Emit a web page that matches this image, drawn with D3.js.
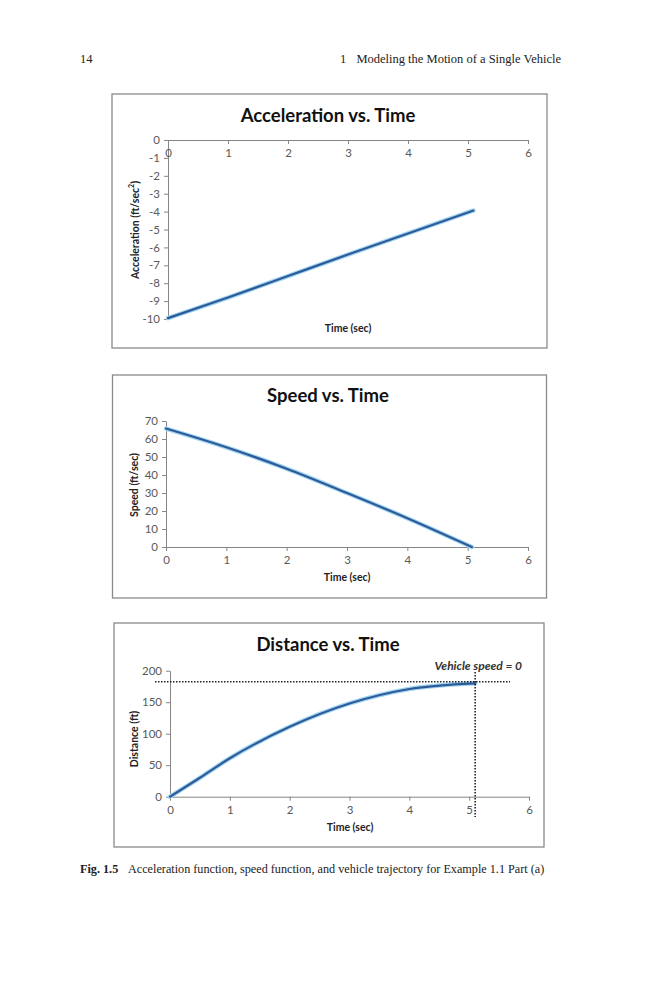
<!DOCTYPE html>
<html>
<head>
<meta charset="utf-8">
<script src="https://cdn.jsdelivr.net/npm/d3@7"></script>
<style>
  body { margin: 0; background: #fff; }
  svg { display: block; }
  .tick text { font-family: Lato, "Open Sans", sans-serif; font-size: 11.5px; fill: #595959; }
  .domain, .tick line { stroke: #868686; }
  .chart-title { font-family: Lato, sans-serif; font-weight: bold; font-size: 18.5px; fill: #111; }
  .axis-title { font-family: Lato, sans-serif; font-weight: bold; font-size: 10.5px; fill: #222; }
  .page { font-family: "Liberation Serif", "Times New Roman", serif; fill: #222; }
</style>
</head>
<body>
<div id="page"></div>
<script>
// values
const accelTime = [0, 1, 2, 3, 4, 5.09];
const accelValues = [-9.95, -8.8, -7.6, -6.4, -5.22, -3.94];

const speedTime = [0, 1, 2, 3, 4, 5.07];
const speedValues = [65.8, 55.4, 43.5, 30, 16, 0];

const distTime = [0, 0.5, 1, 2, 3, 4, 5.1];
const distValues = [0, 30, 61, 111, 148, 171, 180];

const stopTime = 5.1;
const stopDistance = 182.5;

const timeTicks = [0, 1, 2, 3, 4, 5, 6];
const accelTicks = [0, -1, -2, -3, -4, -5, -6, -7, -8, -9, -10];
const speedTicks = [0, 10, 20, 30, 40, 50, 60, 70];
const distTicks = [0, 50, 100, 150, 200];

const svg = d3.select("#page").append("svg")
    .attr("width", 659)
    .attr("height", 1000);

// running header
svg.append("text").attr("class", "page")
    .attr("x", 80).attr("y", 63)
    .style("font-size", "12.5px")
    .text("14");
svg.append("text").attr("class", "page")
    .attr("x", 340).attr("y", 63)
    .style("font-size", "12.5px")
    .text("1");
svg.append("text").attr("class", "page")
    .attr("x", 561).attr("y", 63)
    .attr("text-anchor", "end")
    .style("font-size", "12.5px")
    .text("Modeling the Motion of a Single Vehicle");

function drawChart(opts) {
    let g = svg.append("g");

    // frame
    g.append("rect")
        .attr("x", opts.box[0]).attr("y", opts.box[1])
        .attr("width", opts.box[2] - opts.box[0])
        .attr("height", opts.box[3] - opts.box[1])
        .attr("fill", "#fff")
        .attr("stroke", "#8a8a8a")
        .attr("stroke-width", 1.3);

    let x = d3.scaleLinear().domain([0, 6]).range(opts.xRange);
    let y = d3.scaleLinear().domain(opts.yDomain).range(opts.yRange);

    let yAxis = d3.axisLeft(y)
        .tickValues(opts.yTicks)
        .tickFormat(d => String(d))
        .tickSize(4)
        .tickPadding(4)
        .tickSizeOuter(0);
    g.append("g")
        .attr("transform", `translate(${opts.xRange[0]},0)`)
        .call(yAxis);

    let xAxis = d3.axisBottom(x)
        .tickValues(timeTicks)
        .tickFormat(d => String(d))
        .tickSize(4)
        .tickPadding(5)
        .tickSizeOuter(0);
    g.append("g")
        .attr("transform", `translate(0,${y(opts.xAxisAt)})`)
        .call(xAxis);

    // chart title
    g.append("text").attr("class", "chart-title")
        .attr("x", 328).attr("y", opts.titleY)
        .attr("text-anchor", "middle")
        .text(opts.title);

    // axis titles
    g.append("text").attr("class", "axis-title")
        .attr("x", opts.xTitle[0]).attr("y", opts.xTitle[1])
        .attr("text-anchor", "middle")
        .attr("dominant-baseline", "middle")
        .text("Time (sec)");

    let yt = g.append("text").attr("class", "axis-title")
        .attr("transform", `translate(${opts.yTitle[0]},${opts.yTitle[1]}) rotate(-90)`)
        .attr("text-anchor", "middle")
        .attr("dominant-baseline", "middle");
    opts.yLabel(yt);

    let line = d3.line()
        .x((d, i) => x(opts.t[i]))
        .y(d => y(d))
        .curve(d3.curveMonotoneX);

    g.append("path")
        .attr("d", line(opts.v))
        .attr("fill", "none")
        .attr("stroke", "#9fd6f2")
        .attr("stroke-width", 4.5)
        .attr("stroke-linecap", "round");
    g.append("path")
        .attr("d", line(opts.v))
        .attr("fill", "none")
        .attr("stroke", "#2f5a98")
        .attr("stroke-width", 2.2)
        .attr("stroke-linecap", "round");

    return { g: g, x: x, y: y };
}

drawChart({
    box: [112, 94, 547, 348],
    xRange: [168, 528],
    yDomain: [-10, 0],
    yRange: [319, 140],
    yTicks: accelTicks,
    xAxisAt: 0,
    title: "Acceleration vs. Time",
    titleY: 122,
    xTitle: [348, 329],
    yTitle: [136, 230],
    yLabel: function(t) {
        t.append("tspan").text("Acceleration (ft/sec");
        t.append("tspan").attr("baseline-shift", "super").style("font-size", "7px").text("2");
        t.append("tspan").text(")");
    },
    t: accelTime,
    v: accelValues
});

drawChart({
    box: [112.5, 375, 546.5, 598],
    xRange: [166, 528],
    yDomain: [0, 70],
    yRange: [547, 421],
    yTicks: speedTicks,
    xAxisAt: 0,
    title: "Speed vs. Time",
    titleY: 402,
    xTitle: [347, 578],
    yTitle: [135, 485],
    yLabel: function(t) { t.text("Speed (ft/sec)"); },
    t: speedTime,
    v: speedValues
});

let dist = drawChart({
    box: [114, 623, 544, 847],
    xRange: [170, 529],
    yDomain: [0, 200],
    yRange: [796.7, 670.7],
    yTicks: distTicks,
    xAxisAt: 0,
    title: "Distance vs. Time",
    titleY: 651,
    xTitle: [350, 828],
    yTitle: [135, 739],
    yLabel: function(t) { t.text("Distance (ft)"); },
    t: distTime,
    v: distValues
});

// stopping annotation
dist.g.append("line")
    .attr("x1", 155).attr("x2", 510)
    .attr("y1", dist.y(stopDistance)).attr("y2", dist.y(stopDistance))
    .attr("stroke", "#222").attr("stroke-width", 1.6)
    .attr("stroke-dasharray", "1.5,1.5");
dist.g.append("line")
    .attr("x1", dist.x(stopTime)).attr("x2", dist.x(stopTime))
    .attr("y1", 672).attr("y2", 817)
    .attr("stroke", "#222").attr("stroke-width", 1.6)
    .attr("stroke-dasharray", "1.5,1.5");
dist.g.append("text")
    .attr("x", 522).attr("y", 670)
    .attr("text-anchor", "end")
    .style("font-family", "Lato, sans-serif")
    .style("font-style", "italic")
    .style("font-weight", "bold")
    .style("font-size", "12px")
    .style("fill", "#333")
    .text("Vehicle speed = 0");

// caption
let cap = svg.append("text").attr("class", "page")
    .attr("x", 80).attr("y", 873)
    .style("font-size", "12.2px");
cap.append("tspan").style("font-weight", "bold").text("Fig. 1.5");
cap.append("tspan").attr("x", 128).text("Acceleration function, speed function, and vehicle trajectory for Example 1.1 Part (a)");
</script>
</body>
</html>
